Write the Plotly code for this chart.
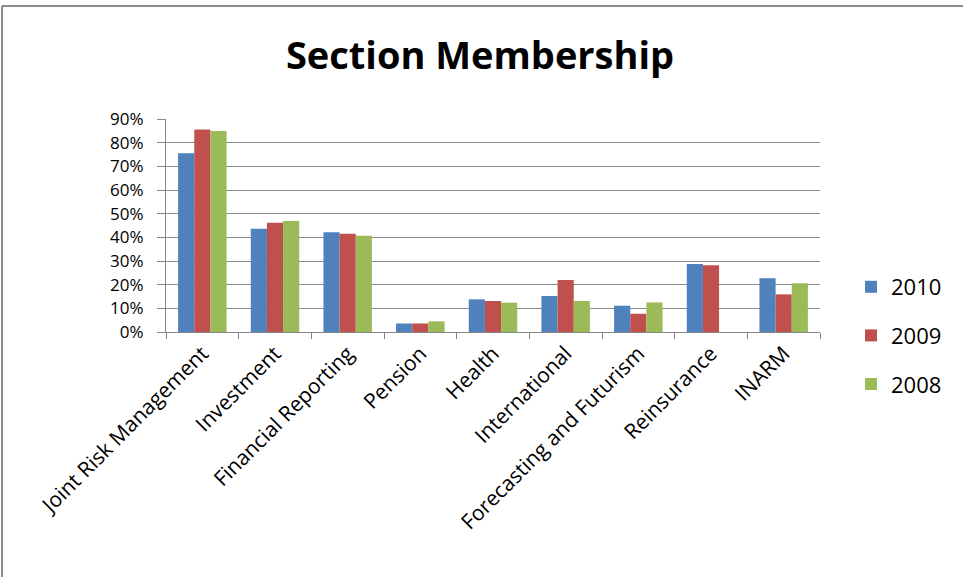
import plotly.graph_objects as go

categories = ["Joint Risk Management", "Investment", "Financial Reporting", "Pension",
              "Health", "International", "Forecasting and Futurism", "Reinsurance", "INARM"]
series_names = ["2010", "2009", "2008"]
v2010 = [0.755, 0.436, 0.421, 0.036, 0.138, 0.152, 0.111, 0.287, 0.227]
v2009 = [0.856, 0.462, 0.415, 0.036, 0.131, 0.220, 0.077, 0.282, 0.159]
v2008 = [0.849, 0.469, 0.407, 0.045, 0.124, 0.131, 0.125, 0.0, 0.206]
colors = ["#4F81BD", "#C0504D", "#9BBB59"]
y_ticks = [0, 0.1, 0.2, 0.3, 0.4, 0.5, 0.6, 0.7, 0.8, 0.9]

W, H = 963, 577
ml, mr, mt, mb = 166, 143, 119, 245
pw, ph = W - ml - mr, H - mt - mb

FONT = "Open Sans"

fig = go.Figure()
for name, vals, col in zip(series_names, [v2010, v2009, v2008], colors):
    fig.add_trace(go.Bar(x=categories, y=vals, name=name, marker_color=col,
                         marker_line_width=0, legendgroup=name))

def px_x(x):
    return (x - ml) / pw

def px_y(y):
    return (H - mb - y) / ph

shapes = [
    dict(type="line", xref="paper", yref="paper", x0=px_x(2), x1=px_x(963), y0=px_y(6), y1=px_y(6),
         line=dict(color="#8c8c8c", width=2)),
    dict(type="line", xref="paper", yref="paper", x0=px_x(2), x1=px_x(2), y0=px_y(6), y1=px_y(577),
         line=dict(color="#8c8c8c", width=2)),
]

fig.update_layout(
    width=W, height=H,
    margin=dict(l=ml, r=mr, t=mt, b=mb),
    paper_bgcolor="white", plot_bgcolor="white",
    barmode="group", bargap=0.333, bargroupgap=0,
    title=dict(text="<b>Section Membership</b>", x=480 / W, xanchor="center",
               y=1 - 56 / H, yanchor="middle",
               font=dict(family=FONT, size=38, color="#000000")),
    font=dict(family=FONT, color="#000000"),
    legend=dict(x=px_x(851), xanchor="left", y=px_y(266), yanchor="top",
                font=dict(family=FONT, size=22, color="#000000"),
                tracegroupgap=17, traceorder="grouped", itemwidth=30,
                bgcolor="rgba(0,0,0,0)"),
    shapes=shapes,
    showlegend=True,
)
fig.update_xaxes(type="category", tickangle=-45, tickson="boundaries", ticks="outside",
                 ticklen=6, tickcolor="#868686", showline=True, linecolor="#868686",
                 linewidth=1, showgrid=False,
                 tickfont=dict(family=FONT, size=21, color="#000000"))
fig.update_yaxes(range=[0, 0.9], tickvals=y_ticks, tickformat=".0%", ticks="outside",
                 ticklen=8, tickcolor="#868686", showline=True, linecolor="#868686",
                 linewidth=1, showgrid=True, gridcolor="#8c8c8c", gridwidth=1,
                 zeroline=False, ticklabelstandoff=10,
                 tickfont=dict(family=FONT, size=17, color="#000000"))

fig.write_html("out.html")
